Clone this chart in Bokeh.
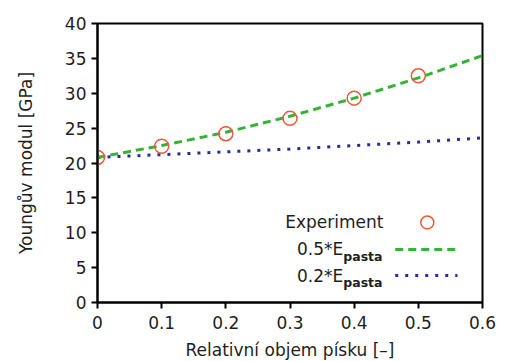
from bokeh.plotting import figure
from bokeh.models import Range1d, FixedTicker, ColumnDataSource
from bokeh.core.properties import value
from bokeh.embed import file_html
from bokeh.resources import INLINE

# Data
exp_x = [0.0, 0.1, 0.2, 0.3, 0.4, 0.5]
exp_y = [20.8, 22.4, 24.2, 26.4, 29.3, 32.5]

model_x = [0.0, 0.1, 0.2, 0.3, 0.4, 0.5, 0.6]
half_pasta = [20.8, 22.5, 24.4, 26.7, 29.3, 32.2, 35.4]
fifth_pasta = [20.8, 21.2, 21.6, 22.0, 22.5, 23.0, 23.6]

x_ticks = [0, 0.1, 0.2, 0.3, 0.4, 0.5, 0.6]
x_tick_labels = ["0", "0.1", "0.2", "0.3", "0.4", "0.5", "0.6"]
y_ticks = [0, 5, 10, 15, 20, 25, 30, 35, 40]

FONT = "DejaVu Sans"
GREEN = "#33b533"
BLUE = "#2a2a9c"
RED = "#f0583a"
TXT = "#1e1e1e"

p = figure(width=513, height=361, output_backend="svg", toolbar_location=None,
           x_range=Range1d(0, 0.6), y_range=Range1d(0, 40),
           min_border_left=97, min_border_right=31, min_border_top=23, min_border_bottom=59)
p.frame_width = 385
p.frame_height = 279

p.xgrid.visible = False
p.ygrid.visible = False
p.outline_line_color = "black"
p.outline_line_width = 2
p.outline_line_alpha = 1

p.xaxis.ticker = FixedTicker(ticks=x_ticks)
p.xaxis.major_label_overrides = {t: l for t, l in zip(x_ticks, x_tick_labels)}
p.yaxis.ticker = FixedTicker(ticks=y_ticks)
p.yaxis.major_label_overrides = {t: str(t) for t in y_ticks}

for ax in (p.xaxis[0], p.yaxis[0]):
    ax.axis_line_width = 2
    ax.axis_line_color = "black"
    ax.major_tick_line_width = 2
    ax.major_tick_line_color = "black"
    ax.major_tick_out = 6
    ax.major_tick_in = 0
    ax.minor_tick_line_color = None
    ax.major_label_text_font = FONT
    ax.major_label_text_font_size = "17px"
    ax.major_label_text_color = TXT
    ax.axis_label_text_font = FONT
    ax.axis_label_text_font_size = "17px"
    ax.axis_label_text_font_style = "normal"
    ax.axis_label_text_color = TXT

p.xaxis.axis_label = "Relativní objem písku [–]"
p.yaxis.axis_label = "Youngův modul [GPa]"
p.xaxis.major_label_standoff = 7
p.yaxis.major_label_standoff = 5
p.xaxis.axis_label_standoff = 8
p.yaxis.axis_label_standoff = 26

# model curves
p.line(model_x, fifth_pasta, line_color=BLUE, line_width=3, line_dash="3 7")
p.line(model_x, half_pasta, line_color=GREEN, line_width=3, line_dash="8 5")
# experiment
p.scatter(exp_x, exp_y, marker="circle", size=14, fill_color=None,
          line_color=RED, line_width=1.5)

# legend (label left, glyph right)
leg = ColumnDataSource(dict(x=[0.4457], y=[11.47], t=["Experiment"]))
p.text("x", "y", text="t", source=leg, text_font=value(FONT), text_font_size="17px",
       text_align="right", text_baseline="middle", text_color=TXT)
p.scatter([0.514], [11.47], marker="circle", size=13, fill_color=None,
          line_color=RED, line_width=1.5)

p.text([0.383, 0.383], [7.74, 3.87], text=["0.5*E", "0.2*E"], text_font=value(FONT),
       text_font_size="17px", text_align="right", text_baseline="middle", text_color=TXT)
p.text([0.383, 0.383], [6.6, 2.8], text=["pasta", "pasta"], text_font=value(FONT),
       text_font_size="12.5px", text_font_style="bold", text_align="left",
       text_baseline="middle", text_color=TXT)

p.line([0.464, 0.561], [7.6, 7.6], line_color=GREEN, line_width=3, line_dash="8 5")
p.line([0.464, 0.561], [3.87, 3.87], line_color=BLUE, line_width=3, line_dash="3 7")

open("out.html", "w").write(file_html(p, INLINE))
